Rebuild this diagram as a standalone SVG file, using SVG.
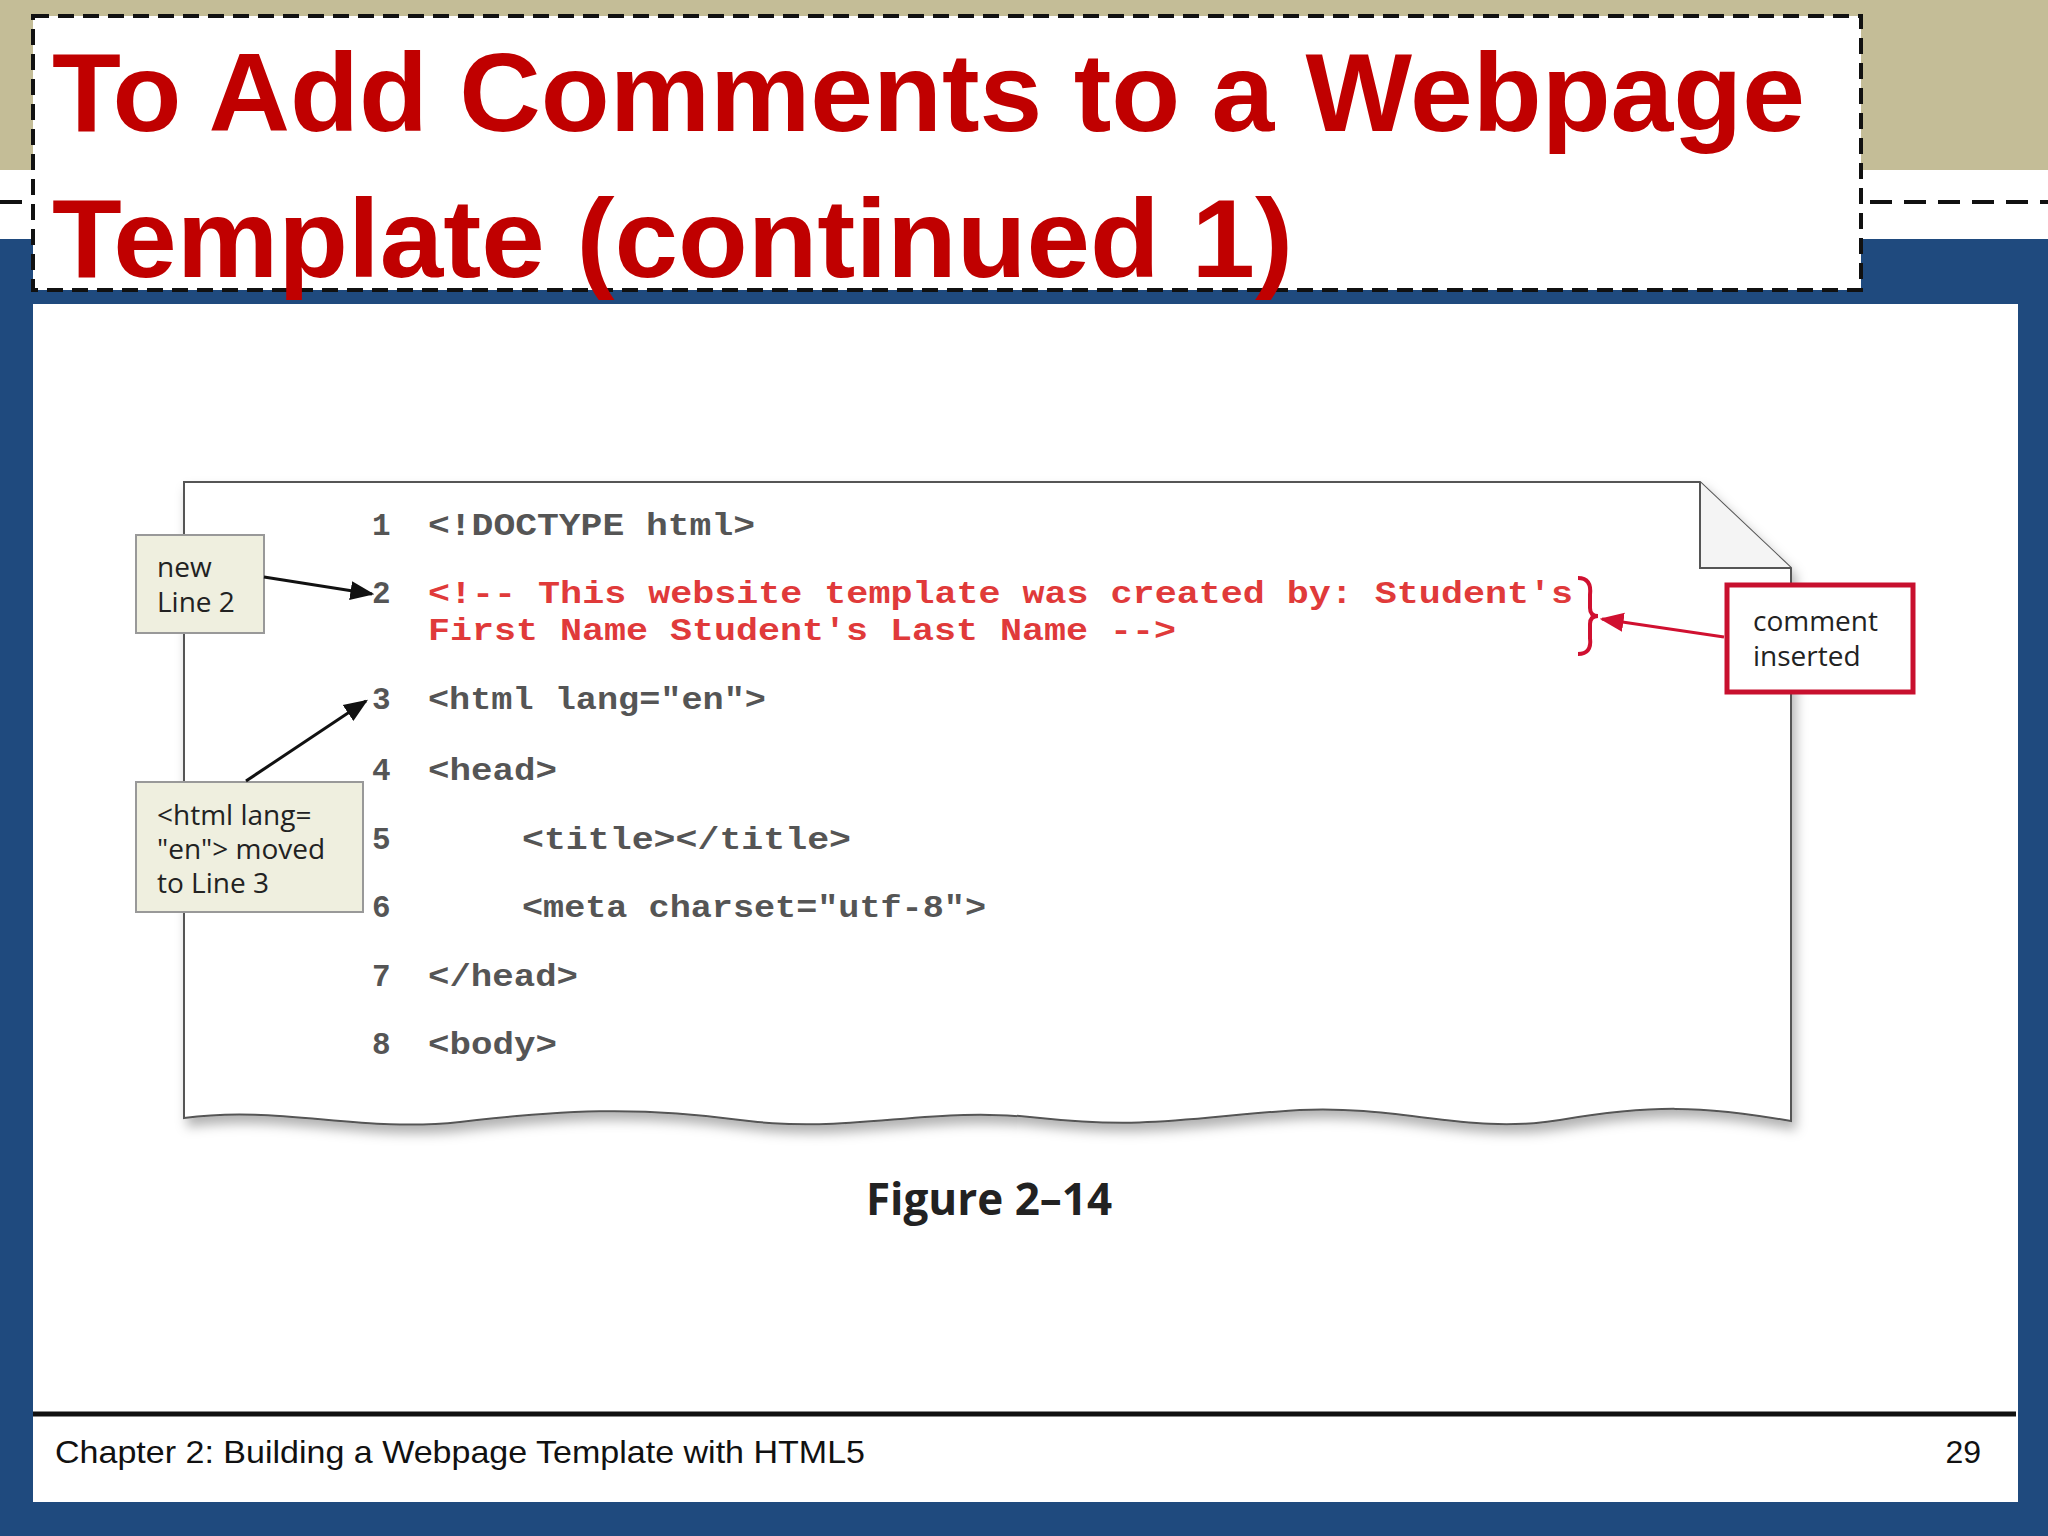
<svg xmlns="http://www.w3.org/2000/svg" width="2048" height="1536" viewBox="0 0 2048 1536">
<style>
.code{font-family:"Liberation Mono",monospace;font-weight:bold;font-size:31px;fill:#555}
.red{fill:#e03a3a}
.lbl{font-family:"Open Sans","DejaVu Sans",sans-serif;font-size:28px;fill:#222}
.title{font-family:"Liberation Sans",sans-serif;font-weight:bold;font-size:112px;fill:#c00000}
</style>
<defs>
<marker id="ab" viewBox="0 0 10 10" refX="9" refY="5" markerWidth="8" markerHeight="8" orient="auto"><path d="M0,1 L10,5 L0,9 z" fill="#111"/></marker>
<marker id="ar" viewBox="0 0 10 10" refX="9" refY="5" markerWidth="8" markerHeight="8" orient="auto"><path d="M0,1 L10,5 L0,9 z" fill="#d01030"/></marker>
<filter id="sh" x="-5%" y="-5%" width="110%" height="115%"><feDropShadow dx="4" dy="8" stdDeviation="6" flood-color="#000" flood-opacity="0.3"/></filter>
</defs>
<rect width="2048" height="1536" fill="#1f4a7e"/>
<rect width="2048" height="170" fill="#c4bd97"/>
<rect y="170" width="2048" height="69" fill="#fff"/>
<line x1="0" y1="202" x2="2048" y2="202" stroke="#111" stroke-width="4" stroke-dasharray="22,12"/>
<rect x="33" y="304" width="1985" height="1198" fill="#fff"/>
<g id="title">
<rect x="33" y="16" width="1828" height="274" fill="#fff" stroke="#111" stroke-width="4" stroke-dasharray="16,9"/>
<text class="title" x="52" y="131" textLength="1753" lengthAdjust="spacingAndGlyphs">To Add Comments to a Webpage</text>
<text class="title" x="52" y="277" textLength="1241" lengthAdjust="spacingAndGlyphs">Template (continued 1)</text>
</g>
<g id="paper">
<path d="M184,482 L1700,482 L1791,568 L1791,1121 C1700,1105 1650,1105 1560,1120 C1470,1135 1400,1105 1300,1110 C1200,1116 1150,1130 1040,1118 C930,1105 850,1135 740,1120 C640,1106 560,1110 460,1122 C360,1133 280,1105 184,1118 Z" fill="#fff" stroke="#555" stroke-width="2" filter="url(#sh)"/>
<path d="M1700,482 L1700,568 L1791,568" fill="#f4f4f4" stroke="#555" stroke-width="2"/>
</g>
<g id="code">
<text class="code" x="372" y="535">1</text><text class="code" x="428" y="535" textLength="327" lengthAdjust="spacingAndGlyphs">&lt;!DOCTYPE html&gt;</text>
<text class="code" x="372" y="603">2</text><text class="code red" x="428" y="603" textLength="1145" lengthAdjust="spacingAndGlyphs">&lt;!-- This website template was created by: Student's</text>
<text class="code red" x="428" y="640" textLength="748" lengthAdjust="spacingAndGlyphs">First Name Student's Last Name --&gt;</text>
<text class="code" x="372" y="709">3</text><text class="code" x="428" y="709" textLength="338" lengthAdjust="spacingAndGlyphs">&lt;html lang="en"&gt;</text>
<text class="code" x="372" y="780">4</text><text class="code" x="428" y="780" textLength="129" lengthAdjust="spacingAndGlyphs">&lt;head&gt;</text>
<text class="code" x="372" y="849">5</text><text class="code" x="522" y="849" textLength="329" lengthAdjust="spacingAndGlyphs">&lt;title&gt;&lt;/title&gt;</text>
<text class="code" x="372" y="917">6</text><text class="code" x="522" y="917" textLength="464" lengthAdjust="spacingAndGlyphs">&lt;meta charset="utf-8"&gt;</text>
<text class="code" x="372" y="986">7</text><text class="code" x="428" y="986" textLength="150" lengthAdjust="spacingAndGlyphs">&lt;/head&gt;</text>
<text class="code" x="372" y="1054">8</text><text class="code" x="428" y="1054" textLength="129" lengthAdjust="spacingAndGlyphs">&lt;body&gt;</text>
<path d="M1578,578 Q1592,578 1590,595 L1590,608 Q1590,616 1598,616 Q1590,616 1590,624 L1590,638 Q1592,654 1578,654" fill="none" stroke="#d01030" stroke-width="4"/>
</g>
<g id="n-new">
<rect x="136" y="535" width="128" height="98" fill="#efefdf" stroke="#999" stroke-width="2"/>
<text class="lbl" x="157" y="577">new</text><text class="lbl" x="157" y="612">Line 2</text>
</g>
<g id="n-html">
<rect x="136" y="782" width="227" height="130" fill="#efefdf" stroke="#999" stroke-width="2"/>
<text class="lbl" x="157" y="825">&lt;html lang=</text><text class="lbl" x="157" y="859">"en"&gt; moved</text><text class="lbl" x="157" y="893">to Line 3</text>
</g>
<g id="n-comment">
<rect x="1727" y="585" width="186" height="107" fill="#fff" stroke="#c8102e" stroke-width="5"/>
<text class="lbl" x="1753" y="631" font-size="27">comment</text><text class="lbl" x="1753" y="666" font-size="27">inserted</text>
</g>
<g id="connectors">
<line x1="264" y1="577" x2="372" y2="594" stroke="#111" stroke-width="3" marker-end="url(#ab)"/>
<line x1="246" y1="781" x2="366" y2="701" stroke="#111" stroke-width="3" marker-end="url(#ab)"/>
<line x1="1724" y1="637" x2="1602" y2="619" stroke="#d01030" stroke-width="3" marker-end="url(#ar)"/>
</g>
<text x="989" y="1215" text-anchor="middle" font-family="Open Sans,DejaVu Sans,sans-serif" font-weight="bold" font-size="44" fill="#222">Figure 2–14</text>
<line x1="33" y1="1414" x2="2016" y2="1414" stroke="#111" stroke-width="5"/>
<text x="55" y="1463" font-family="Liberation Sans,sans-serif" font-size="32" fill="#111" textLength="810" lengthAdjust="spacingAndGlyphs">Chapter 2: Building a Webpage Template with HTML5</text>
<text x="1981" y="1463" text-anchor="end" font-family="Liberation Sans,sans-serif" font-size="32" fill="#111">29</text>
</svg>
